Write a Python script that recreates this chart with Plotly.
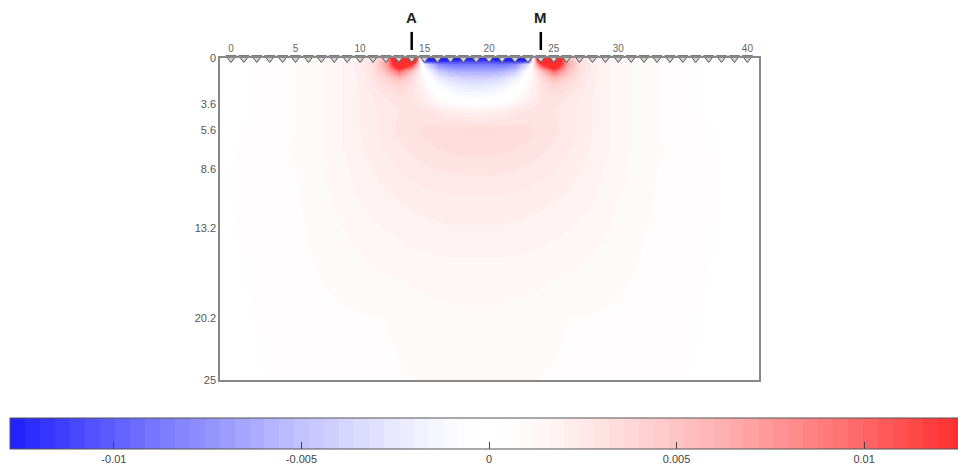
import plotly.graph_objects as go

# ---------------- data ----------------
# horizontal positions (m) of the sensitivity grid nodes
grid_x = [-1, 1.7, 5, 7, 8.7, 10, 11, 12, 13, 14, 15, 16, 17, 18, 19, 20, 21, 22, 23, 24,
          25, 26, 27, 28, 29.3, 31, 33, 36.3, 39, 41]
# depths (m) of the grid rows
grid_depth = [0, 0.5, 1, 1.5, 2, 3, 4, 5.6, 7, 8.6, 11, 13.2, 16, 20.2, 25]

# sensitivity values, in units of 1e-3
sens_d0 = [0.1, 0.4, 0.8, 1.2, 1.6, 2.0, 2.8, 6.0, 22, 30, -20, -16, -14, -13, -13, -13, -14, -16, -20, 30, 22, 6.0, 2.8, 2.0, 1.6, 1.2, 0.8, 0.4, 0.1, 0.05]
sens_d05 = [0.1, 0.4, 0.8, 1.2, 1.6, 2.2, 3.2, 7.0, 18, 12, -3, -8, -9, -9, -9, -9, -9, -8, -3, 12, 18, 7.0, 3.2, 2.2, 1.6, 1.2, 0.8, 0.4, 0.1, 0.05]
sens_d1 = [0.1, 0.4, 0.8, 1.2, 1.6, 2.2, 3.1, 5.5, 10, 5.0, -0.3, -4.5, -5.8, -6.2, -6.2, -6.2, -5.8, -4.5, -0.3, 5.0, 10, 5.5, 3.1, 2.2, 1.6, 1.2, 0.8, 0.4, 0.1, 0.05]
sens_d15 = [0.1, 0.4, 0.8, 1.2, 1.6, 2.1, 2.9, 4.2, 6.0, 3.6, 0.5, -2.3, -3.6, -4.2, -4.4, -4.2, -3.6, -2.3, 0.5, 3.6, 6.0, 4.2, 2.9, 2.1, 1.6, 1.2, 0.8, 0.4, 0.1, 0.05]
sens_d2 = [0.1, 0.4, 0.8, 1.2, 1.6, 2.1, 2.7, 3.4, 4.0, 3.1, 1.2, -0.9, -2.0, -2.6, -2.8, -2.6, -2.0, -0.9, 1.2, 3.1, 4.0, 3.4, 2.7, 2.1, 1.6, 1.2, 0.8, 0.4, 0.1, 0.05]
sens_d3 = [0.1, 0.4, 0.8, 1.2, 1.6, 2.0, 2.4, 2.8, 3.0, 2.8, 2.0, 0.6, -0.3, -0.7, -0.85, -0.7, -0.3, 0.6, 2.0, 2.8, 3.0, 2.8, 2.4, 2.0, 1.6, 1.2, 0.8, 0.4, 0.1, 0.05]
sens_d4 = [0.1, 0.4, 0.8, 1.2, 1.6, 2.0, 2.3, 2.6, 2.8, 3.0, 2.9, 2.6, 2.2, 1.9, 1.7, 1.9, 2.2, 2.6, 2.9, 3.0, 2.8, 2.6, 2.3, 2.0, 1.6, 1.2, 0.8, 0.4, 0.1, 0.05]
sens_d56 = [0.2, 0.5, 0.8, 1.2, 1.6, 2.0, 2.3, 2.6, 2.9, 3.1, 3.3, 3.4, 3.5, 3.6, 3.6, 3.6, 3.5, 3.4, 3.3, 3.1, 2.9, 2.6, 2.3, 2.0, 1.6, 1.2, 0.8, 0.5, 0.2, 0.15]
sens_d7 = [0.25, 0.55, 0.85, 1.2, 1.6, 1.95, 2.2, 2.45, 2.7, 2.9, 3.1, 3.2, 3.3, 3.35, 3.35, 3.35, 3.3, 3.2, 3.1, 2.9, 2.7, 2.45, 2.2, 1.95, 1.6, 1.2, 0.85, 0.55, 0.25, 0.2]
sens_d86 = [0.3, 0.55, 0.8, 1.15, 1.5, 1.8, 2.0, 2.2, 2.4, 2.55, 2.7, 2.8, 2.85, 2.9, 2.9, 2.9, 2.85, 2.8, 2.7, 2.55, 2.4, 2.2, 2.0, 1.8, 1.5, 1.15, 0.8, 0.55, 0.3, 0.25]
sens_d11 = [0.3, 0.55, 0.75, 1.05, 1.35, 1.6, 1.75, 1.9, 2.0, 2.1, 2.2, 2.25, 2.3, 2.3, 2.3, 2.3, 2.3, 2.25, 2.2, 2.1, 2.0, 1.9, 1.75, 1.6, 1.35, 1.05, 0.75, 0.55, 0.3, 0.25]
sens_d132 = [0.3, 0.5, 0.7, 0.95, 1.2, 1.4, 1.5, 1.6, 1.7, 1.8, 1.85, 1.9, 1.95, 1.95, 1.95, 1.95, 1.95, 1.9, 1.85, 1.8, 1.7, 1.6, 1.5, 1.4, 1.2, 0.95, 0.7, 0.5, 0.3, 0.25]
sens_d16 = [0.25, 0.45, 0.65, 0.85, 1.05, 1.15, 1.25, 1.3, 1.35, 1.4, 1.45, 1.5, 1.5, 1.5, 1.5, 1.5, 1.5, 1.5, 1.45, 1.4, 1.35, 1.3, 1.25, 1.15, 1.05, 0.85, 0.65, 0.45, 0.25, 0.2]
sens_d202 = [0.2, 0.4, 0.55, 0.65, 0.72, 0.76, 0.78, 0.8, 0.86, 0.95, 1.0, 1.05, 1.08, 1.1, 1.1, 1.1, 1.08, 1.05, 1.0, 0.95, 0.86, 0.8, 0.78, 0.76, 0.72, 0.65, 0.55, 0.4, 0.2, 0.15]
sens_d25 = [0.15, 0.35, 0.5, 0.6, 0.65, 0.7, 0.72, 0.75, 0.77, 0.79, 0.85, 0.9, 0.93, 0.95, 0.95, 0.95, 0.93, 0.9, 0.85, 0.79, 0.77, 0.75, 0.72, 0.7, 0.65, 0.6, 0.5, 0.35, 0.15, 0.1]

electrode_x = [0, 1, 2, 3, 4, 5, 6, 7, 8, 9, 10, 11, 12, 13, 14, 15, 16, 17, 18, 19, 20,
               21, 22, 23, 24, 25, 26, 27, 28, 29, 30, 31, 32, 33, 34, 35, 36, 37, 38, 39, 40]
electrode_depth = [0] * len(electrode_x)

marker_labels = ["A", "M"]
marker_pos = [14, 24]

x_tick_vals = [0, 5, 10, 15, 20, 25, 30, 35, 40]
x_tick_text = ["0", "5", "10", "15", "20", "25", "30", "", "40"]
depth_ticks = [0, 3.6, 5.6, 8.6, 13.2, 20.2, 25]
depth_tick_text = ["0", "3.6", "5.6", "8.6", "13.2", "20.2", "25"]
cbar_ticks = [-0.01, -0.005, 0, 0.005, 0.01]
cbar_tick_text = ["-0.01", "-0.005", "0", "0.005", "0.01"]
c_limit = 0.01277

# ---------------- build ----------------
rows_e3 = [sens_d0, sens_d05, sens_d1, sens_d15, sens_d2, sens_d3, sens_d4, sens_d56,
           sens_d7, sens_d86, sens_d11, sens_d132, sens_d16, sens_d202, sens_d25]
z = [[v * 1e-3 for v in row] for row in rows_e3]

# 64-step blue-white-red colormap (stepped like the original)
n = 64
half = n // 2
blue_end = (35, 35, 255)
red_end = (255, 45, 45)
gamma = 1.35
colors = []
for i in range(n):
    if i < half:
        f = ((half - 1 - i) / (half - 1)) ** gamma
        c = tuple(round(255 - f * (255 - b)) for b in blue_end)
    else:
        f = ((i - half) / (half - 1)) ** gamma
        c = tuple(round(255 - f * (255 - r)) for r in red_end)
    colors.append("rgb(%d,%d,%d)" % c)
colorscale = []
for i, c in enumerate(colors):
    colorscale.append([i / n, c])
    colorscale.append([(i + 1) / n, c])

FONT = "Liberation Sans, Arial, sans-serif"

fig = go.Figure()
fig.add_trace(go.Heatmap(
    x=grid_x, y=grid_depth, z=z,
    zmin=-c_limit, zmax=c_limit,
    colorscale=colorscale, zsmooth="best", hoverinfo="skip",
    colorbar=dict(
        orientation="h", xanchor="left", x=-0.3896, yanchor="top", y=-0.118,
        lenmode="pixels", len=958, thickness=31, xpad=0, ypad=0,
        outlinecolor="#555", outlinewidth=1,
        ticks="inside", ticklen=7, tickcolor="#444", tickwidth=1,
        tickvals=cbar_ticks, ticktext=cbar_tick_text,
        tickfont=dict(family=FONT, size=11, color="#444"),
    ),
))
fig.add_trace(go.Scatter(
    x=electrode_x, y=electrode_depth, mode="markers", cliponaxis=False,
    marker=dict(symbol="triangle-down", size=9, color="#d4d4d4",
                line=dict(color="#555", width=1)),
    showlegend=False, hoverinfo="skip",
))

shapes = []
annotations = []
for lab, pos in zip(marker_labels, marker_pos):
    shapes.append(dict(type="line", xref="x", yref="paper", x0=pos, x1=pos,
                       y0=1.025, y1=1.081, line=dict(color="black", width=2.5)))
    annotations.append(dict(text="<b>%s</b>" % lab, xref="x", yref="paper", x=pos,
                            y=1.127, showarrow=False, xanchor="center", yanchor="middle",
                            font=dict(family=FONT, size=15, color="#222")))

fig.update_layout(
    width=958, height=465,
    margin=dict(l=220, r=199, t=58, b=85, autoexpand=False),
    paper_bgcolor="white", plot_bgcolor="white",
    font=dict(family=FONT, size=11, color="#555"),
    shapes=shapes, annotations=annotations,
    xaxis=dict(range=[-0.85, 40.9], side="top", tickvals=x_tick_vals, ticktext=x_tick_text,
               showline=True, linecolor="#888", linewidth=1.5, mirror=True,
               showgrid=False, zeroline=False, ticks="", automargin=False,
               tickfont=dict(family=FONT, size=10, color="#666")),
    yaxis=dict(range=[25, 0], tickvals=depth_ticks, ticktext=depth_tick_text,
               showline=True, linecolor="#888", linewidth=1.5, mirror=True,
               showgrid=False, zeroline=False, ticks="", automargin=False,
               tickfont=dict(family=FONT, size=11, color="#555")),
)

fig.write_html(
    "out.html",
    config={"displayModeBar": False},
    post_script="document.body.style.margin='0';document.body.style.overflow='hidden';",
)
